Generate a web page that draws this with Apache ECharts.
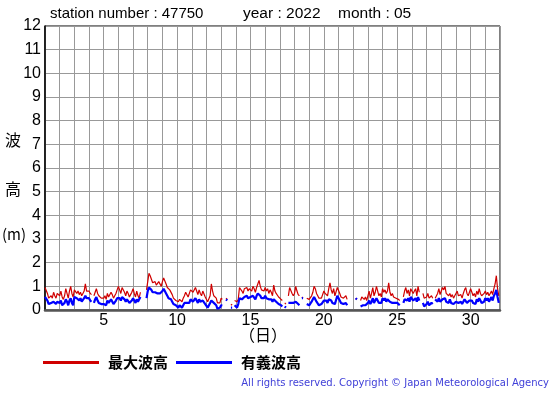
<!DOCTYPE html>
<html><head><meta charset="utf-8">
<script src="https://cdn.jsdelivr.net/npm/echarts@6/dist/echarts.min.js"></script>
<style>html,body{margin:0;padding:0;background:#fff}#c{width:555px;height:395px}</style>
</head><body><div id="c"></div>
<script>
// 2-hourly readings, one row per day (1..31), hours 0,2,...,22
const hours = [0,2,4,6,8,10,12,14,16,18,20,22];
const days = [1,2,3,4,5,6,7,8,9,10,11,12,13,14,15,16,17,18,19,20,21,22,23,24,25,26,27,28,29,30,31];
const maxWave = [
 [0.95,1.0,0.7,0.5,0.45,0.6,0.5,0.75,0.6,0.5,0.7,0.65],
 [0.6,0.8,0.55,0.45,0.6,0.9,0.7,0.5,0.8,1.0,0.7,0.55],
 [0.85,0.9,0.7,0.8,0.65,0.75,0.6,0.7,0.8,1.1,0.8,0.75],
 [0.8,0.7,0.65,null,0.6,0.75,0.9,0.7,0.6,0.65,0.5,0.55],
 [0.5,0.6,0.45,0.7,0.55,0.6,0.75,0.65,0.5,0.6,0.7,0.85],
 [1.0,0.85,0.7,0.95,1.0,0.75,0.6,0.8,0.7,0.55,0.65,0.75],
 [0.9,0.7,0.55,0.8,0.6,0.5,0.75,null,null,null,null,0.85],
 [1.2,1.55,1.45,1.3,1.15,1.1,1.2,1.05,1.1,1.2,1.15,1.0],
 [1.2,1.35,1.3,1.1,0.95,0.9,0.85,0.8,0.65,0.5,0.45,0.4],
 [0.4,0.35,0.45,0.4,0.35,0.5,0.6,0.75,0.7,0.55,0.6,0.85],
 [0.9,0.75,0.7,0.95,0.8,0.65,0.85,0.7,0.6,0.8,0.75,0.55],
 [0.5,0.35,0.4,0.6,1.1,0.8,0.6,0.55,0.5,0.3,0.25,0.3],
 [0.5,0.45,null,null,0.5,0.45,null,null,0.2,0.25,null,0.4],
 [0.4,0.35,0.45,0.95,1.0,0.8,0.7,0.9,0.85,0.95,0.8,0.9],
 [0.85,0.8,1.0,0.9,0.75,0.95,1.1,1.25,1.0,0.85,0.9,0.8],
 [0.95,0.8,0.9,0.7,0.85,0.75,0.6,1.05,0.8,0.7,0.65,0.55],
 [0.5,0.45,0.4,null,0.3,0.25,null,0.6,0.95,1.0,0.7,0.6],
 [0.7,1.0,0.8,0.65,0.6,null,0.55,0.5,null,null,0.5,0.45],
 [0.45,0.4,0.6,0.75,1.0,0.9,0.7,0.6,0.5,0.45,0.5,0.55],
 [0.8,0.7,0.75,0.6,0.9,1.15,0.85,0.7,0.9,0.6,0.55,0.95],
 [0.95,0.7,0.55,0.6,0.5,0.55,0.6,0.45,null,null,null,null],
 [null,null,0.5,0.45,null,null,0.4,0.55,0.5,0.45,0.55,0.4],
 [0.6,0.8,0.5,0.7,0.95,0.6,0.75,1.0,0.8,0.6,0.7,0.55],
 [0.9,0.75,0.85,0.7,0.8,1.15,0.75,0.6,0.7,0.55,0.6,0.5],
 [0.5,0.45,0.4,null,null,0.55,0.8,0.95,0.7,0.85,0.6,0.9],
 [0.95,0.7,0.8,0.9,0.6,1.0,0.75,null,null,0.7,0.5,0.45],
 [0.55,0.7,0.5,0.45,0.6,0.5,null,0.5,0.45,0.7,0.9,0.65],
 [0.8,0.95,0.85,1.0,0.7,0.75,0.6,0.7,0.55,0.65,0.5,0.6],
 [0.7,0.8,0.6,0.55,0.65,0.5,0.7,0.85,0.95,0.7,0.6,0.75],
 [0.9,0.75,0.6,0.7,0.55,0.8,0.65,0.9,0.7,0.6,0.55,0.7],
 [0.8,0.65,0.75,0.6,0.7,0.8,0.65,0.9,1.1,1.45,0.9,0.6]
];
const sigWave = [
 [0.55,0.5,0.4,0.25,0.2,0.3,0.25,0.35,0.3,0.25,0.35,0.4],
 [0.3,0.4,0.2,0.15,0.3,0.45,0.35,0.2,0.4,0.5,0.3,0.2],
 [0.55,0.6,0.5,0.55,0.4,0.5,0.35,0.4,0.5,0.6,0.5,0.45],
 [0.5,0.4,0.35,null,0.3,0.45,0.55,0.4,0.3,0.35,0.25,0.3],
 [0.25,0.3,0.2,0.4,0.3,0.35,0.45,0.4,0.25,0.3,0.4,0.5],
 [0.55,0.5,0.4,0.55,0.6,0.45,0.35,0.45,0.4,0.3,0.35,0.4],
 [0.5,0.4,0.3,0.45,0.35,0.3,0.55,null,null,null,null,0.5],
 [0.8,0.95,0.9,0.85,0.75,0.7,0.75,0.7,0.7,0.75,0.7,0.65],
 [0.8,0.9,0.85,0.7,0.6,0.5,0.5,0.45,0.35,0.25,0.2,0.2],
 [0.15,0.1,0.2,0.15,0.1,0.2,0.3,0.35,0.3,0.25,0.3,0.45],
 [0.45,0.35,0.4,0.5,0.4,0.3,0.45,0.35,0.3,0.4,0.35,0.25],
 [0.25,0.1,0.15,0.3,0.4,0.35,0.3,0.25,0.2,0.05,0.05,0.1],
 [0.2,0.2,null,null,0.45,0.4,null,null,0.1,0.1,null,0.2],
 [0.15,0.1,0.25,0.5,0.55,0.45,0.4,0.55,0.5,0.6,0.5,0.55],
 [0.55,0.5,0.6,0.55,0.45,0.6,0.7,0.7,0.6,0.5,0.55,0.5],
 [0.6,0.5,0.55,0.45,0.5,0.45,0.35,0.45,0.4,0.35,0.3,0.25],
 [0.2,0.2,0.15,null,0.15,0.1,null,0.3,0.35,0.3,0.25,0.3],
 [0.3,0.35,0.3,0.25,0.2,null,0.5,0.5,null,null,0.25,0.2],
 [0.2,0.2,0.35,0.45,0.55,0.5,0.35,0.3,0.2,0.2,0.25,0.3],
 [0.4,0.35,0.4,0.3,0.45,0.5,0.4,0.3,0.35,0.25,0.25,0.6],
 [0.6,0.4,0.3,0.3,0.25,0.3,0.3,0.2,null,null,null,null],
 [null,null,0.5,0.45,null,null,0.15,0.2,0.2,0.15,0.2,0.15],
 [0.3,0.4,0.25,0.35,0.5,0.3,0.4,0.5,0.45,0.3,0.35,0.3],
 [0.5,0.4,0.5,0.35,0.45,0.5,0.35,0.3,0.3,0.25,0.3,0.25],
 [0.3,0.25,0.2,null,null,0.3,0.45,0.5,0.4,0.5,0.35,0.55],
 [0.6,0.4,0.45,0.5,0.35,0.55,0.4,null,null,0.3,0.15,0.1],
 [0.25,0.35,0.2,0.2,0.3,0.25,null,0.45,0.4,0.35,0.5,0.35],
 [0.4,0.45,0.4,0.5,0.35,0.4,0.3,0.45,0.3,0.35,0.25,0.3],
 [0.35,0.4,0.3,0.25,0.35,0.25,0.35,0.45,0.4,0.3,0.3,0.4],
 [0.4,0.4,0.3,0.35,0.25,0.45,0.35,0.5,0.4,0.3,0.3,0.35],
 [0.5,0.4,0.5,0.35,0.45,0.55,0.4,0.6,0.7,0.85,0.55,0.3]
];
const xTickLabels = [5,10,15,20,25,30];
const yTickLabels = [0,1,2,3,4,5,6,7,8,9,10,11,12];
const seriesNames = ['最大波高','有義波高'];
const titleParts = ['station number : 47750','year : 2022','month : 05'];
const copyright = 'All rights reserved. Copyright \u00a9 Japan Meteorological Agency';

function toPairs(rows){
  const out=[];
  days.forEach((d,i)=>hours.forEach((h,j)=>out.push([d+h/24, rows[i][j]])));
  return out;
}
const font = '"Liberation Sans", Arial, sans-serif';
const cjk = '"Noto Sans CJK JP", sans-serif';
const chart = echarts.init(document.getElementById('c'), null, {renderer:'canvas'});
chart.setOption({
  animation:false,
  backgroundColor:'#fff',
  grid:{left:45,right:55,top:26,bottom:85,show:true,borderColor:'#000',borderWidth:1,containLabel:false},
  xAxis:{type:'value',min:1,max:32,interval:1,
    axisLine:{show:true,onZero:false,lineStyle:{color:'#555',width:2.5}},
    axisTick:{show:false},
    splitLine:{show:true,lineStyle:{color:'#999',width:1}},
    axisLabel:{margin:3,fontFamily:font,fontSize:16,color:'#000',
      formatter:v=>xTickLabels.indexOf(v)>=0?String(v):''}},
  yAxis:{type:'value',min:0,max:12,interval:1,
    axisLine:{show:true,lineStyle:{color:'#000',width:1.5}},
    axisTick:{show:false},
    splitLine:{show:true,lineStyle:{color:'#999',width:1}},
    axisLabel:{margin:4,fontFamily:font,fontSize:16,color:'#000',
      formatter:v=>yTickLabels.indexOf(v)>=0?String(v):''}},
  legend:{left:43,top:355,itemWidth:56,itemHeight:3,itemGap:8,icon:'rect',padding:0,
    textStyle:{fontFamily:cjk,fontSize:15,fontWeight:'bold',color:'#000',padding:[0,0,0,4]},
    data:seriesNames},
  series:[
    {name:seriesNames[0],type:'line',data:toPairs(maxWave),showSymbol:false,connectNulls:false,
      lineStyle:{color:'#d00000',width:1.2},itemStyle:{color:'#d00000'},z:2},
    {name:seriesNames[1],type:'line',data:toPairs(sigWave),showSymbol:false,connectNulls:false,
      lineStyle:{color:'#0000ff',width:2.2},itemStyle:{color:'#0000ff'},z:3}
  ],
  graphic:[
    {type:'text',left:50,top:6,style:{text:titleParts[0],font:'15px '+font,fill:'#000'}},
    {type:'text',left:243,top:6,style:{text:titleParts[1],font:'15.5px '+font,fill:'#000'}},
    {type:'text',left:338,top:6,style:{text:titleParts[2],font:'15.5px '+font,fill:'#000'}},
    {type:'text',left:5,top:132,style:{text:'波',font:'16px '+cjk,fill:'#000'}},
    {type:'text',left:5,top:181,style:{text:'高',font:'16px '+cjk,fill:'#000'}},
    {type:'text',left:2,top:227,style:{text:'(m)',font:'15px '+cjk,fill:'#000'}},
    {type:'text',left:239,top:327,style:{text:'（日）',font:'16px '+cjk,fill:'#000'}},
    {type:'text',right:6,top:378,style:{text:copyright,font:'10px "DejaVu Sans", sans-serif',fill:'#4040d8'}}
  ]
});
</script></body></html>
